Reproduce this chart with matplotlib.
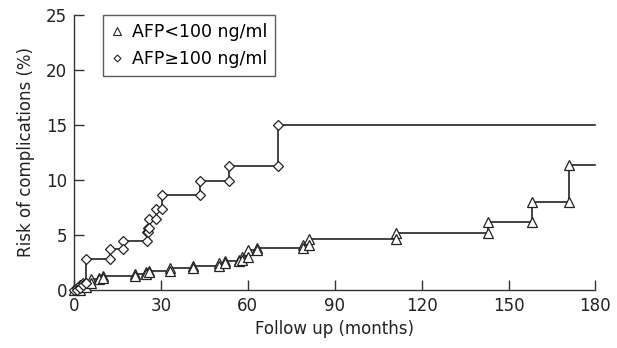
import matplotlib.pyplot as plt
import numpy as np

# AFP < 100 ng/ml  (event times in months, cumulative risk %)
low_t = [0, 2, 4, 6, 8.5, 10, 21, 25, 26, 33, 41, 50, 52, 57, 58, 60, 63, 79, 81, 111, 143, 158, 171]
low_v = [0, 0.3, 0.65, 0.95, 1.1, 1.3, 1.45, 1.6, 1.75, 1.95, 2.2, 2.45, 2.65, 2.75, 3.0, 3.6, 3.85, 4.1, 4.6, 5.2, 6.2, 8.0, 11.4]

# AFP >= 100 ng/ml
high_t = [0, 1, 2, 3, 4, 12.4, 17, 25.3, 25.7, 26.0, 28.4, 30.3, 43.5, 53.4, 70.4]
high_v = [0, 0.2, 0.4, 0.6, 2.85, 3.7, 4.4, 5.3, 5.6, 6.45, 7.4, 8.6, 9.9, 11.3, 15.0]

x_end = 180
x_ticks = [0, 30, 60, 90, 120, 150, 180]
y_ticks = [0, 5, 10, 15, 20, 25]


def draw_curve(ax, t, v, marker, ms, label):
    t = np.asarray(t, float)
    v = np.asarray(v, float)
    xs = np.append(t, x_end)
    ys = np.append(v, v[-1])
    ax.step(xs, ys, where='post', color='#222222', lw=1.2, zorder=2, clip_on=False)
    # markers before and after each jump
    prev = np.concatenate([[v[0]], v[:-1]])
    mx = np.concatenate([t, t[1:]])
    my = np.concatenate([v, prev[1:]])
    ax.plot(mx, my, ls='none', marker=marker, ms=ms, mfc='white', mec='#222222',
            mew=0.9, zorder=3, clip_on=False)
    ax.plot([], [], ls='none', marker=marker, ms=ms - 2, mfc='white', mec='#222222',
            mew=0.8, label=label)


def main():
    plt.close('all')
    fig = plt.figure(figsize=(6.17, 3.48), dpi=100)
    ax = fig.add_axes([0.12, 0.167, 0.845, 0.79])

    draw_curve(ax, low_t, low_v, '^', 7.5, 'AFP<100 ng/ml')
    draw_curve(ax, high_t, high_v, 'D', 5.5, 'AFP\u2265100 ng/ml')

    ax.set_xlim(0, 180)
    ax.set_ylim(0, 25)
    ax.set_xticks(x_ticks)
    ax.set_yticks(y_ticks)
    ax.spines['top'].set_visible(False)
    ax.spines['right'].set_visible(False)
    for s in ('left', 'bottom'):
        ax.spines[s].set_color('#333333')
        ax.spines[s].set_linewidth(1.0)
    ax.tick_params(direction='in', length=7, width=1.0, color='#333333',
                   labelsize=12, labelcolor='#222222', pad=5)
    ax.set_xlabel('Follow up (months)', fontsize=12, color='#222222', labelpad=4)
    ax.set_ylabel('Risk of complications (%)', fontsize=12, color='#222222', labelpad=8)

    leg = ax.legend(loc='upper left', bbox_to_anchor=(29 / 521, 1.0), borderaxespad=0,
                    fontsize=12.5, frameon=True, fancybox=False, handlelength=0.7,
                    handletextpad=0.5, borderpad=0.45, labelspacing=0.55)
    leg.get_frame().set_edgecolor('#333333')
    leg.get_frame().set_linewidth(1.0)

    fig.savefig('out.png', dpi=100)


if __name__ == '__main__':
    main()
